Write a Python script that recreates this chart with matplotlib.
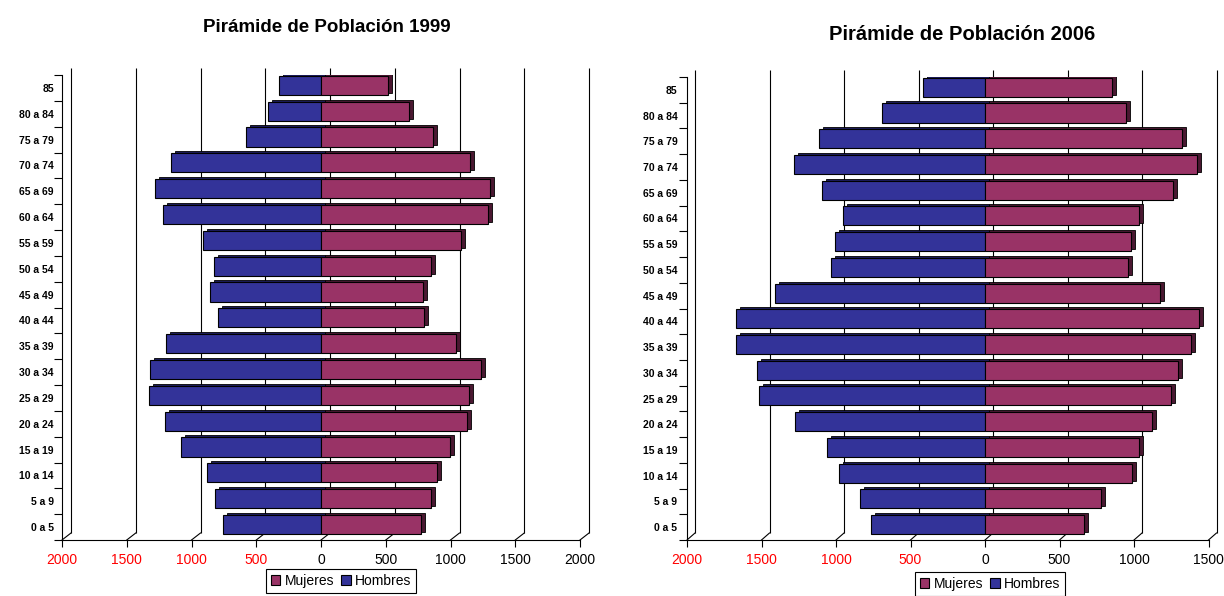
import matplotlib
matplotlib.use('Agg')
import matplotlib.pyplot as plt
import numpy as np
from matplotlib.transforms import ScaledTranslation
from matplotlib.patches import Patch

plt.rcParams['font.family'] = ['Liberation Sans', 'DejaVu Sans']

categories = ['0 a 5', '5 a 9', '10 a 14', '15 a 19', '20 a 24', '25 a 29',
              '30 a 34', '35 a 39', '40 a 44', '45 a 49', '50 a 54', '55 a 59',
              '60 a 64', '65 a 69', '70 a 74', '75 a 79', '80 a 84', '85']

hombres_1999 = [754, 816, 878, 1084, 1205, 1328, 1318, 1194, 795, 855, 826, 908,
                1217, 1279, 1156, 579, 407, 324]
mujeres_1999 = [775, 847, 898, 999, 1125, 1140, 1233, 1040, 795, 785, 847, 1081,
                1287, 1308, 1153, 865, 682, 515]

hombres_2006 = [765, 837, 981, 1060, 1276, 1517, 1528, 1670, 1670, 1411, 1033, 1006,
                954, 1096, 1285, 1114, 690, 416]
mujeres_2006 = [663, 780, 988, 1035, 1123, 1247, 1294, 1384, 1434, 1175, 963, 981,
                1033, 1265, 1420, 1319, 949, 853]

ticks_1999 = [-2000, -1500, -1000, -500, 0, 500, 1000, 1500, 2000]
ticks_2006 = [-2000, -1500, -1000, -500, 0, 500, 1000, 1500]

BLUE = '#333399'
BLUE_D = '#1c1c5c'
PINK = '#993366'
PINK_D = '#4a1831'

W, H = 1224, 596
DPI = 100
fig = plt.figure(figsize=(W / DPI, H / DPI), dpi=DPI)


def px_axes(x0, x1, ytop, ybot):
    return fig.add_axes([x0 / W, (H - ybot) / H, (x1 - x0) / W, (ybot - ytop) / H])


def draw(ax, hombres, mujeres, ticks, wall_dx, wall_dy, axw_px, axh_px, ypad):
    n = len(categories)
    xmin, xmax = ticks[0], ticks[-1]
    ax.set_xlim(xmin, xmax)
    ax.set_ylim(-0.5, n - 0.5)
    h = -np.asarray(hombres, dtype=float)
    m = np.asarray(mujeres, dtype=float)
    ypos = np.arange(n) + 0.1

    wall = ax.transData + ScaledTranslation(wall_dx / DPI, wall_dy / DPI, fig.dpi_scale_trans)
    depth = ax.transData + ScaledTranslation(4 / DPI, 2 / DPI, fig.dpi_scale_trans)

    # back wall gridlines
    ax.vlines(ticks, -0.5, n - 0.5, colors='black', lw=0.8, transform=wall,
              zorder=1, clip_on=False)
    # floor diagonals
    ddx = wall_dx * (xmax - xmin) / axw_px
    ddy = wall_dy * n / axh_px
    for t in ticks:
        ax.plot([t, t + ddx], [-0.5, -0.5 + ddy], color='black', lw=0.8,
                zorder=1, clip_on=False)

    # bar depth (side / top faces)
    ax.barh(ypos, h, height=0.74, color=BLUE_D, edgecolor='black', lw=0.6,
            transform=depth, zorder=2)
    ax.barh(ypos, m, height=0.74, color=PINK_D, edgecolor='black', lw=0.6,
            transform=depth, zorder=2)
    # front faces
    ax.barh(ypos, h, height=0.74, color=BLUE, edgecolor='black', lw=0.8, zorder=3)
    ax.barh(ypos, m, height=0.74, color=PINK, edgecolor='black', lw=0.8, zorder=3)

    for s in ['top', 'right']:
        ax.spines[s].set_visible(False)
    for s in ['left', 'bottom']:
        ax.spines[s].set_linewidth(0.8)
        ax.spines[s].set_zorder(4)

    ax.set_xticks(ticks)
    ax.set_xticklabels([str(abs(t)) for t in ticks], fontsize=10)
    for lab, t in zip(ax.get_xticklabels(), ticks):
        lab.set_color('red' if t < 0 else 'black')
    ax.tick_params(axis='x', length=5, width=0.8, pad=4)

    ax.set_yticks(np.arange(n))
    ax.set_yticklabels(categories, fontsize=7.5, fontweight='bold')
    ax.set_yticks(np.arange(n + 1) - 0.5, minor=True)
    ax.tick_params(axis='y', which='major', length=0, pad=ypad)
    ax.tick_params(axis='y', which='minor', length=6, width=0.8)
    ax.set_facecolor('none')


ax1 = px_axes(62, 580, 75, 540)
draw(ax1, hombres_1999, mujeres_1999, ticks_1999, 9, 7, 580 - 62, 540 - 75, 5.8)

ax2 = px_axes(687, 1208.5, 77, 540)
draw(ax2, hombres_2006, mujeres_2006, ticks_2006, 8, 7, 1208.5 - 687, 540 - 77, 7)

fig.text(327 / W, 1 - 27 / H, 'Pirámide de Población 1999', ha='center', va='center',
         fontsize=13.5, fontweight='bold')
fig.text(962 / W, 1 - 35 / H, 'Pirámide de Población 2006', ha='center', va='center',
         fontsize=14.5, fontweight='bold')

handles = [Patch(facecolor=PINK, edgecolor='black', lw=0.8),
           Patch(facecolor=BLUE, edgecolor='black', lw=0.8)]
for cx, ty in [(341, 569), (990, 572)]:
    leg = fig.legend(handles, ['Mujeres', 'Hombres'], loc='upper center',
                     bbox_to_anchor=(cx / W, 1 - ty / H), ncol=2, frameon=True,
                     fancybox=False, edgecolor='black', framealpha=1, fontsize=10,
                     handlelength=0.7, handleheight=0.7, handletextpad=0.3,
                     columnspacing=0.5, borderpad=0.35, borderaxespad=0)
    leg.get_frame().set_linewidth(0.8)

fig.savefig('out.png', dpi=DPI)
